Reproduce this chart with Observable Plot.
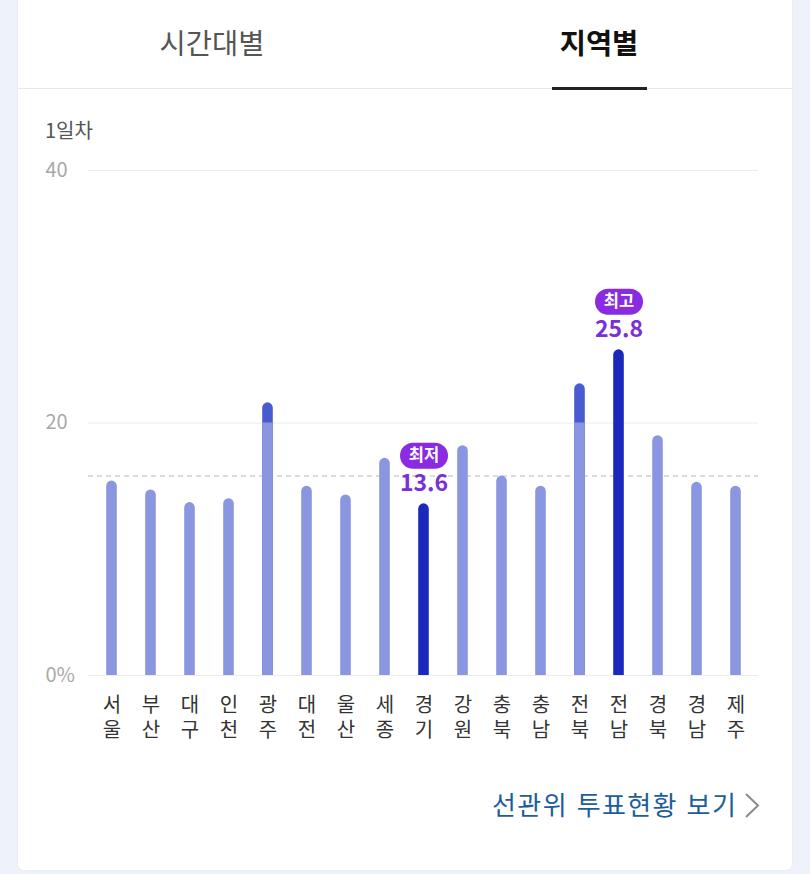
<!DOCTYPE html>
<html lang="ko">
<head>
<meta charset="utf-8">
<script src="https://cdn.jsdelivr.net/npm/d3@7"></script>
<script src="https://cdn.jsdelivr.net/npm/@observablehq/plot@0.6"></script>
<style>
  html, body { margin: 0; padding: 0; }
  body { width: 810px; height: 874px; background: #eef2fa; position: relative; overflow: hidden;
         font-family: "Noto Sans CJK KR", "Noto Sans", sans-serif; }
  #card { position: absolute; left: 18px; top: -20px; width: 774px; height: 890px; background: #fff;
          border-radius: 6px; box-shadow: 0 0 2px rgba(0,0,0,0.08); }
  .tab { position: absolute; top: 22px; font-size: 28.5px; line-height: 40px; transform: translateX(-50%); white-space: nowrap; }
  #tab1 { left: 212px; color: #555; }
  #tab2 { left: 599px; color: #111; font-weight: bold; }
  #divider { position: absolute; left: 18px; width: 774px; top: 88px; height: 1px; background: #e8e8e8; }
  #underline { position: absolute; left: 552px; width: 95px; top: 87px; height: 3px; background: #222; }
  #day { position: absolute; left: 45px; top: 116px; font-size: 20px; line-height: 28px; color: #555; }
  #chart { position: absolute; left: 0; top: 0; }
  #link { position: absolute; left: 492px; top: 786px; font-size: 26px; letter-spacing: 1.4px; line-height: 36px; color: #1d5d9b; white-space: nowrap; }
  #chev { position: absolute; left: 0; top: 0; }
</style>
</head>
<body>
<div id="card"></div>
<div class="tab" id="tab1">시간대별</div>
<div class="tab" id="tab2">지역별</div>
<div id="divider"></div>
<div id="underline"></div>
<div id="day">1일차</div>
<div id="chart"></div>
<div id="link">선관위 투표현황 보기</div>
<svg id="chev" width="810" height="874" style="pointer-events:none"><polyline points="746,794 758,805.5 746,817" fill="none" stroke="#8a8a8a" stroke-width="2"/></svg>
<script>
const regions = ["서울","부산","대구","인천","광주","대전","울산","세종","경기","강원","충북","충남","전북","전남","경북","경남","제주"];
const turnout = [15.4, 14.7, 13.7, 14.0, 21.6, 15.0, 14.3, 17.2, 13.6, 18.2, 15.8, 15.0, 23.1, 25.8, 19.0, 15.3, 15.0];
const average = [15.8];
const yTicks = [0, 20, 40];
const badgeMin = "최저";
const badgeMax = "최고";

const data = regions.map((r, i) => ({region: r, value: turnout[i]}));
const minRegion = regions[d3.minIndex(turnout)];
const maxRegion = regions[d3.maxIndex(turnout)];
const isExtreme = d => d.region === minRegion || d.region === maxRegion;
const extremes = data.filter(isExtreme);
const twoTone = data.filter(d => !isExtreme(d) && d.value > 20);

const LIGHT = "#8b96e0", MEDIUM = "#4a5bd0", DARK = "#1a28bb", PURPLE = "#8a2be2", PURPLE_TEXT = "#7b2fd6";

const pill = {
  draw(ctx) {
    const w = 48, h = 26, r = 13;
    ctx.moveTo(-w / 2 + r, -h / 2);
    ctx.lineTo(w / 2 - r, -h / 2);
    ctx.arc(w / 2 - r, 0, r, -Math.PI / 2, Math.PI / 2);
    ctx.lineTo(-w / 2 + r, h / 2);
    ctx.arc(-w / 2 + r, 0, r, Math.PI / 2, 3 * Math.PI / 2);
    ctx.closePath();
  }
};

const inset = 14.2;
const chart = Plot.plot({
  width: 810,
  height: 760,
  marginTop: 170,
  marginBottom: 85,
  marginLeft: 88,
  marginRight: 52,
  style: {fontFamily: "'Noto Sans CJK KR', 'Noto Sans', sans-serif", background: "transparent", color: "#333"},
  x: {domain: regions, padding: 0, axis: null},
  y: {domain: [0, 40], axis: null},
  marks: [
    Plot.ruleY(yTicks, {stroke: "#ececec", strokeWidth: 1}),
    Plot.text(yTicks, {y: d => d, frameAnchor: "left", dx: -43, textAnchor: "start",
      text: d => d === 0 ? "0%" : String(d), fill: "#a8a8a8", fontSize: 20}),
    Plot.ruleY(average, {stroke: "#b8b8b8", strokeDasharray: "5,4"}),
    Plot.barY(data, {x: "region", y1: -1, y2: "value", insetLeft: inset, insetRight: inset, rx: 5.5, clip: true,
      fill: d => isExtreme(d) ? DARK : d.value > 20 ? MEDIUM : LIGHT}),
    Plot.barY(twoTone, {x: "region", y1: 0, y2: 20, insetLeft: inset, insetRight: inset, fill: LIGHT}),
    Plot.text(data, {x: "region", frameAnchor: "bottom", dy: 22, lineAnchor: "top",
      text: d => d.region[0], fontSize: 20, fill: "#333"}),
    Plot.text(data, {x: "region", frameAnchor: "bottom", dy: 47, lineAnchor: "top",
      text: d => d.region[1], fontSize: 20, fill: "#333"}),
    Plot.dot(extremes, {x: "region", y: "value", dy: -48, symbol: pill, fill: PURPLE, stroke: "none"}),
    Plot.text(extremes, {x: "region", y: "value", dy: -48, text: d => d.region === minRegion ? badgeMin : badgeMax,
      fill: "white", fontSize: 16.5, fontWeight: "bold"}),
    Plot.text(extremes, {x: "region", y: "value", dy: -20, text: d => d.value.toFixed(1),
      fill: PURPLE_TEXT, fontSize: 23, fontWeight: "bold"})
  ]
});
document.getElementById("chart").append(chart);
</script>
</body>
</html>
